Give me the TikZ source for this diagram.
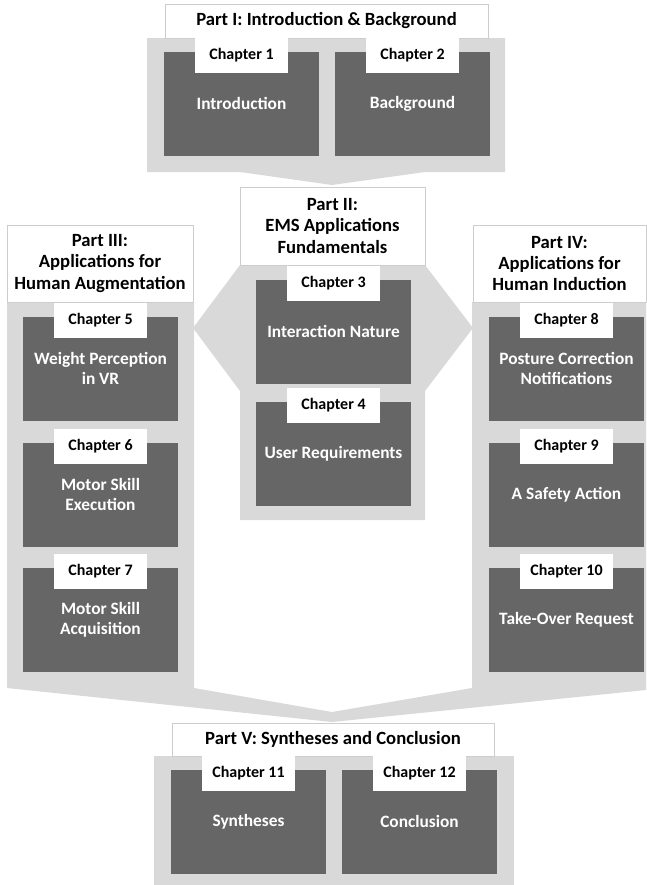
\documentclass[tikz,border=0pt]{standalone}
\usepackage{fontspec}
\setmainfont{Carlito}
\definecolor{panelgray}{RGB}{217,217,217}
\definecolor{chapgray}{RGB}{102,102,102}
\definecolor{edgegray}{RGB}{205,205,205}

% rectangle node given by its corners (x1,y1) and (x2,y2)
\newcommand{\cornernode}[7]{%
  \node[#2, minimum width={((#5)-(#3))*0.75pt}, minimum height={((#6)-(#4))*0.75pt}]
    (#1) at ({((#3)+(#5))/2},{((#4)+(#6))/2}) {#7};}

% one chapter: dark block with its white label tab
\newcommand{\chapblock}[5]{%
  \cornernode{ch#1}{chapbox}{#2}{#3}{#2+155}{#3+103.5}{#4}
  \cornernode{tab#1}{chaptab}{#2+31}{#3-14.5}{#2+124}{#3+21}{Chapter #5}}

\tikzset{
  base/.style={inner sep=0pt, outer sep=0pt, align=center},
  panel/.style={fill=panelgray},
  titlebox/.style={base, fill=white, draw=edgegray, line width=0.6pt, text=black,
    font=\bfseries\fontsize{14}{16}\selectfont},
  chapbox/.style={base, fill=chapgray, text=white, font=\bfseries\fontsize{13}{15}\selectfont},
  chaptab/.style={base, fill=white, text=black, font=\bfseries\fontsize{12}{14}\selectfont},
}

\begin{document}
\begin{tikzpicture}[x=0.75pt, y=-0.75pt]
\useasboundingbox (0,0) rectangle (646,885);

% grey panels with their arrow shapes
\fill[panel] (147,38) -- (505,38) -- (505,172) -- (425,172) -- (332,185)
  -- (240,172) -- (147,172) -- cycle;
\fill[panel] (240,265) -- (425,265) -- (473,328) -- (425,391) -- (425,520)
  -- (240,520) -- (240,391) -- (193,328) -- cycle;
\fill[panel] (7,302) -- (194,302) -- (194,688) -- (332,712) -- (472,688)
  -- (472,302) -- (646,302) -- (646,690) -- (332,722) -- (7,688) -- cycle;
\fill[panel] (154,756) rectangle (514,885);

% part titles
\cornernode{part1}{titlebox}{165}{4}{488}{38}{Part I: Introduction \& Background}
\cornernode{part2}{titlebox}{240}{187}{425}{265}{Part II:\\EMS Applications\\Fundamentals}
\cornernode{part3}{titlebox}{7}{225}{193}{302}{Part III:\\Applications for\\Human Augmentation}
\cornernode{part4}{titlebox}{473}{225}{646}{302}{Part IV:\\Applications for\\Human Induction}
\cornernode{part5}{titlebox}{172}{723}{494}{756}{Part V: Syntheses and Conclusion}

% chapters
\chapblock{1}{164}{52}{Introduction}{1}
\chapblock{2}{335}{52}{Background}{2}
\chapblock{3}{256}{280}{Interaction Nature}{3}
\chapblock{4}{256}{402}{User Requirements}{4}
\chapblock{5}{23}{317}{Weight Perception\\in VR}{5}
\chapblock{6}{23}{443}{Motor Skill\\Execution}{6}
\chapblock{7}{23}{568}{Motor Skill\\Acquisition}{7}
\chapblock{8}{489}{317}{Posture Correction\\Notifications}{8}
\chapblock{9}{489}{443}{A Safety Action}{9}
\chapblock{10}{489}{568}{Take-Over Request}{10}
\chapblock{11}{171}{770}{Syntheses}{11}
\chapblock{12}{342}{770}{Conclusion}{12}
\end{tikzpicture}
\end{document}
